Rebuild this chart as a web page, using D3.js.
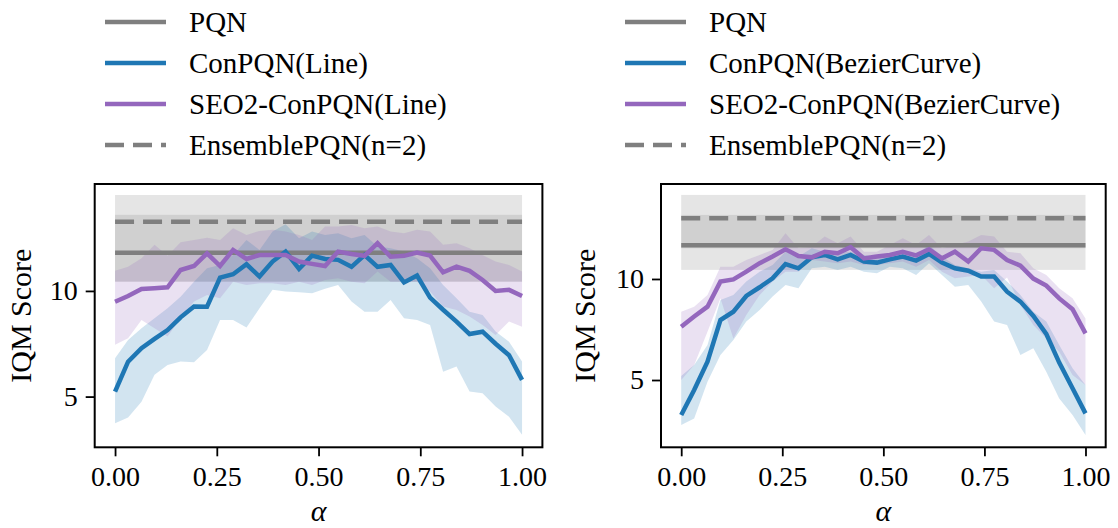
<!DOCTYPE html>
<html>
<head>
<meta charset="utf-8">
<script src="https://cdn.jsdelivr.net/npm/d3@7"></script>
<style>
  body { margin: 0; background: #fff; }
  svg text { font-family: "Liberation Serif", "Times New Roman", serif; fill: #000; }
</style>
</head>
<body>
<svg id="chart" width="1118" height="528"></svg>
<script>
// alpha grid (32 settings)
const alphas = [0, 0.032, 0.065, 0.097, 0.129, 0.161, 0.194, 0.226, 0.258, 0.290, 0.323, 0.355, 0.387, 0.419, 0.452, 0.484,
                0.516, 0.548, 0.581, 0.613, 0.645, 0.677, 0.710, 0.742, 0.774, 0.806, 0.839, 0.871, 0.903, 0.935, 0.968, 1.0];

// left panel: Line
const lineCon   = [5.23, 6.65, 7.29, 7.73, 8.15, 8.75, 9.26, 9.25, 10.63, 10.79, 11.26, 10.68, 11.39, 11.86, 11.04, 11.67,
                   11.51, 11.47, 11.14, 11.70, 11.14, 11.23, 10.40, 10.73, 9.68, 9.11, 8.55, 7.96, 8.07, 7.50, 6.96, 5.79];
const lineConHi = [6.81, 7.68, 8.23, 8.71, 9.18, 9.73, 10.44, 11.07, 11.23, 11.70, 12.41, 11.94, 12.81, 13.16, 12.49, 12.81,
                   12.65, 12.73, 12.49, 12.65, 12.10, 12.02, 11.86, 11.55, 11.07, 10.28, 9.65, 9.02, 8.86, 8.08, 7.60, 6.66];
const lineConLo = [3.74, 4.01, 4.76, 6.03, 6.50, 6.66, 6.62, 7.21, 8.63, 8.63, 8.27, 9.18, 10.05, 9.97, 9.94, 9.89,
                   10.10, 10.28, 9.50, 9.02, 9.02, 9.57, 8.71, 8.63, 8.39, 6.18, 6.42, 5.24, 5.16, 4.53, 4.05, 3.19];
const lineSeo   = [9.49, 9.76, 10.09, 10.13, 10.17, 10.99, 11.18, 11.78, 11.18, 11.94, 11.51, 11.70, 11.70, 11.70, 11.39, 11.28,
                   11.18, 11.86, 11.75, 11.66, 12.26, 11.62, 11.66, 11.81, 11.67, 10.88, 11.15, 10.95, 10.52, 10.00, 10.05, 9.76];
const lineSeoHi = [10.95, 11.15, 11.55, 12.18, 11.67, 12.30, 12.41, 12.52, 12.41, 12.97, 12.65, 12.84, 12.89, 12.81, 12.65, 12.41,
                   13.05, 13.05, 13.12, 12.97, 13.05, 12.81, 12.73, 12.89, 12.81, 12.18, 12.26, 12.02, 11.70, 11.39, 11.23, 10.92];
const lineSeoLo = [7.45, 7.76, 8.63, 8.23, 7.84, 8.71, 9.50, 9.81, 9.65, 10.44, 10.28, 10.36, 10.36, 10.28, 10.44, 10.28,
                   10.52, 10.60, 10.44, 10.36, 10.92, 10.44, 10.44, 10.44, 9.97, 9.26, 9.10, 8.79, 8.39, 7.92, 8.55, 8.31];
const linePqn = 11.81, linePqnBand = [10.44, 13.60];
const lineEns = 13.27, lineEnsBand = [10.44, 14.54];

// right panel: BezierCurve
const bezCon   = [3.27, 4.51, 5.91, 7.97, 8.38, 9.16, 9.59, 10.03, 10.74, 10.53, 11.07, 11.19, 10.97, 11.19, 10.86, 10.81,
                  10.97, 11.11, 10.91, 11.24, 10.81, 10.53, 10.41, 10.12, 10.12, 9.37, 8.88, 8.17, 7.28, 5.86, 4.59, 3.35];
const bezConHi = [5.20, 5.74, 6.73, 8.96, 9.21, 9.87, 10.36, 10.69, 11.35, 11.11, 11.52, 11.35, 11.35, 11.35, 11.19, 11.11,
                  11.27, 11.35, 11.19, 11.68, 11.11, 10.69, 10.53, 10.36, 10.45, 9.87, 9.21, 8.38, 7.89, 6.73, 5.58, 4.75];
const bezConLo = [2.77, 3.10, 4.92, 6.24, 6.98, 7.89, 8.47, 9.13, 9.70, 9.54, 10.53, 10.61, 10.45, 10.61, 10.36, 10.28,
                  10.61, 10.53, 10.20, 10.78, 10.20, 9.62, 9.70, 8.88, 7.89, 7.72, 6.24, 6.57, 5.41, 4.09, 3.27, 2.28];
const bezSeo   = [7.64, 8.14, 8.63, 9.87, 9.98, 10.36, 10.78, 11.11, 11.47, 11.14, 11.07, 11.35, 11.27, 11.57, 11.02, 11.11,
                  11.19, 11.34, 11.17, 11.47, 11.02, 11.35, 10.86, 11.52, 11.44, 10.94, 10.66, 10.02, 9.67, 9.04, 8.50, 7.31];
const bezSeoHi = [8.38, 8.63, 9.21, 10.61, 10.61, 10.94, 11.19, 11.44, 12.26, 11.52, 11.60, 12.10, 11.77, 12.10, 11.35, 11.35,
                  11.68, 12.01, 11.68, 12.18, 11.52, 11.68, 11.85, 12.18, 12.10, 11.35, 11.27, 10.53, 10.20, 9.54, 9.04, 8.05];
const bezSeoLo = [5.00, 5.74, 7.39, 9.04, 7.06, 8.22, 9.21, 9.87, 10.36, 10.36, 10.94, 10.86, 10.78, 10.86, 10.69, 10.69,
                  10.78, 10.86, 10.61, 10.94, 10.36, 10.03, 10.12, 10.20, 9.54, 10.07, 8.71, 7.72, 7.06, 6.40, 5.25, 4.75];
const bezPqn = 11.67, bezPqnBand = [10.45, 13.17];
const bezEns = 13.00, bezEnsBand = [11.52, 14.16];

const xTicks = [0, 0.25, 0.5, 0.75, 1.0];
const yTicks = [5, 10];

const blue = "#1f77b4", purple = "#9467bd", gray = "#7f7f7f";
const tickFont = 28, labelFont = 30, legendFont = 29;

const svg = d3.select("#chart");

function drawPanel(p) {
  const x = d3.scaleLinear().domain([-0.05, 1.05]).range([p.left, p.right]);
  const y = d3.scaleLinear().domain(p.yDomain).range([p.bottom, p.top]);
  const g = svg.append("g");

  // baseline bands
  [p.ensBand, p.pqnBand].forEach(b => {
    g.append("rect")
      .attr("x", x(0)).attr("width", x(1) - x(0))
      .attr("y", y(b[1])).attr("height", y(b[0]) - y(b[1]))
      .attr("fill", gray).attr("fill-opacity", 0.2);
  });

  const area = (lo, hi) => d3.area()
    .x((d, i) => x(alphas[i]))
    .y0((d, i) => y(lo[i]))
    .y1((d, i) => y(hi[i]))(alphas);
  const line = vals => d3.line()
    .x((d, i) => x(alphas[i]))
    .y(d => y(d))(vals);

  g.append("path").attr("d", area(p.conLo, p.conHi)).attr("fill", blue).attr("fill-opacity", 0.2);
  g.append("path").attr("d", area(p.seoLo, p.seoHi)).attr("fill", purple).attr("fill-opacity", 0.2);

  // PQN
  g.append("line").attr("x1", x(0)).attr("x2", x(1)).attr("y1", y(p.pqn)).attr("y2", y(p.pqn))
    .attr("stroke", gray).attr("stroke-width", 4.5);

  g.append("path").attr("d", line(p.con)).attr("fill", "none").attr("stroke", blue)
    .attr("stroke-width", 4.5).attr("stroke-linejoin", "miter");
  g.append("path").attr("d", line(p.seo)).attr("fill", "none").attr("stroke", purple)
    .attr("stroke-width", 4.5).attr("stroke-linejoin", "miter");

  // EnsemblePQN dashed
  g.append("line").attr("x1", x(0)).attr("x2", x(1)).attr("y1", y(p.ens)).attr("y2", y(p.ens))
    .attr("stroke", gray).attr("stroke-width", 4.5).attr("stroke-dasharray", "19,9");

  // axes
  const xAxis = g.append("g").attr("transform", `translate(0,${p.bottom})`)
    .call(d3.axisBottom(x).tickValues(xTicks).tickFormat(d3.format(".2f")).tickSize(9).tickPadding(10));
  const yAxis = g.append("g").attr("transform", `translate(${p.left},0)`)
    .call(d3.axisLeft(y).tickValues(yTicks).tickFormat(d3.format("d")).tickSize(9).tickPadding(8));
  [xAxis, yAxis].forEach(a => {
    a.select(".domain").remove();
    a.selectAll(".tick line").attr("stroke", "#000").attr("stroke-width", 1.8);
    a.selectAll("text").attr("font-size", tickFont);
  });

  g.append("rect").attr("x", p.left).attr("y", p.top)
    .attr("width", p.right - p.left).attr("height", p.bottom - p.top)
    .attr("fill", "none").attr("stroke", "#000").attr("stroke-width", 2);

  g.append("text").attr("x", (x(0) + x(1)) / 2).attr("y", 521)
    .attr("text-anchor", "middle").attr("font-size", labelFont).attr("font-style", "italic")
    .text("α");
  g.append("text")
    .attr("transform", `translate(${p.yLabelX},${(p.top + p.bottom) / 2}) rotate(-90)`)
    .attr("text-anchor", "middle").attr("font-size", labelFont)
    .text("IQM Score");

  // legend
  const items = [
    { label: "PQN", color: gray, dash: null },
    { label: p.conName, color: blue, dash: null },
    { label: p.seoName, color: purple, dash: null },
    { label: "EnsemblePQN(n=2)", color: gray, dash: "19,9" }
  ];
  const leg = g.append("g");
  items.forEach((it, i) => {
    const yy = 22 + i * 41;
    leg.append("line").attr("x1", p.legX).attr("x2", p.legX + 61).attr("y1", yy).attr("y2", yy)
      .attr("stroke", it.color).attr("stroke-width", 4.5).attr("stroke-dasharray", it.dash);
    leg.append("text").attr("x", p.legX + 84).attr("y", yy).attr("dy", "0.35em")
      .attr("font-size", legendFont).text(it.label);
  });
}

drawPanel({
  left: 94.7, right: 542.4, top: 184, bottom: 447.3, yDomain: [2.60, 15.06], yLabelX: 31, legX: 105,
  con: lineCon, conLo: lineConLo, conHi: lineConHi,
  seo: lineSeo, seoLo: lineSeoLo, seoHi: lineSeoHi,
  pqn: linePqn, pqnBand: linePqnBand, ens: lineEns, ensBand: lineEnsBand,
  conName: "ConPQN(Line)", seoName: "SEO2-ConPQN(Line)"
});

drawPanel({
  left: 661, right: 1105.7, top: 184, bottom: 447.3, yDomain: [1.67, 14.70], yLabelX: 595, legX: 625,
  con: bezCon, conLo: bezConLo, conHi: bezConHi,
  seo: bezSeo, seoLo: bezSeoLo, seoHi: bezSeoHi,
  pqn: bezPqn, pqnBand: bezPqnBand, ens: bezEns, ensBand: bezEnsBand,
  conName: "ConPQN(BezierCurve)", seoName: "SEO2-ConPQN(BezierCurve)"
});
</script>
</body>
</html>
